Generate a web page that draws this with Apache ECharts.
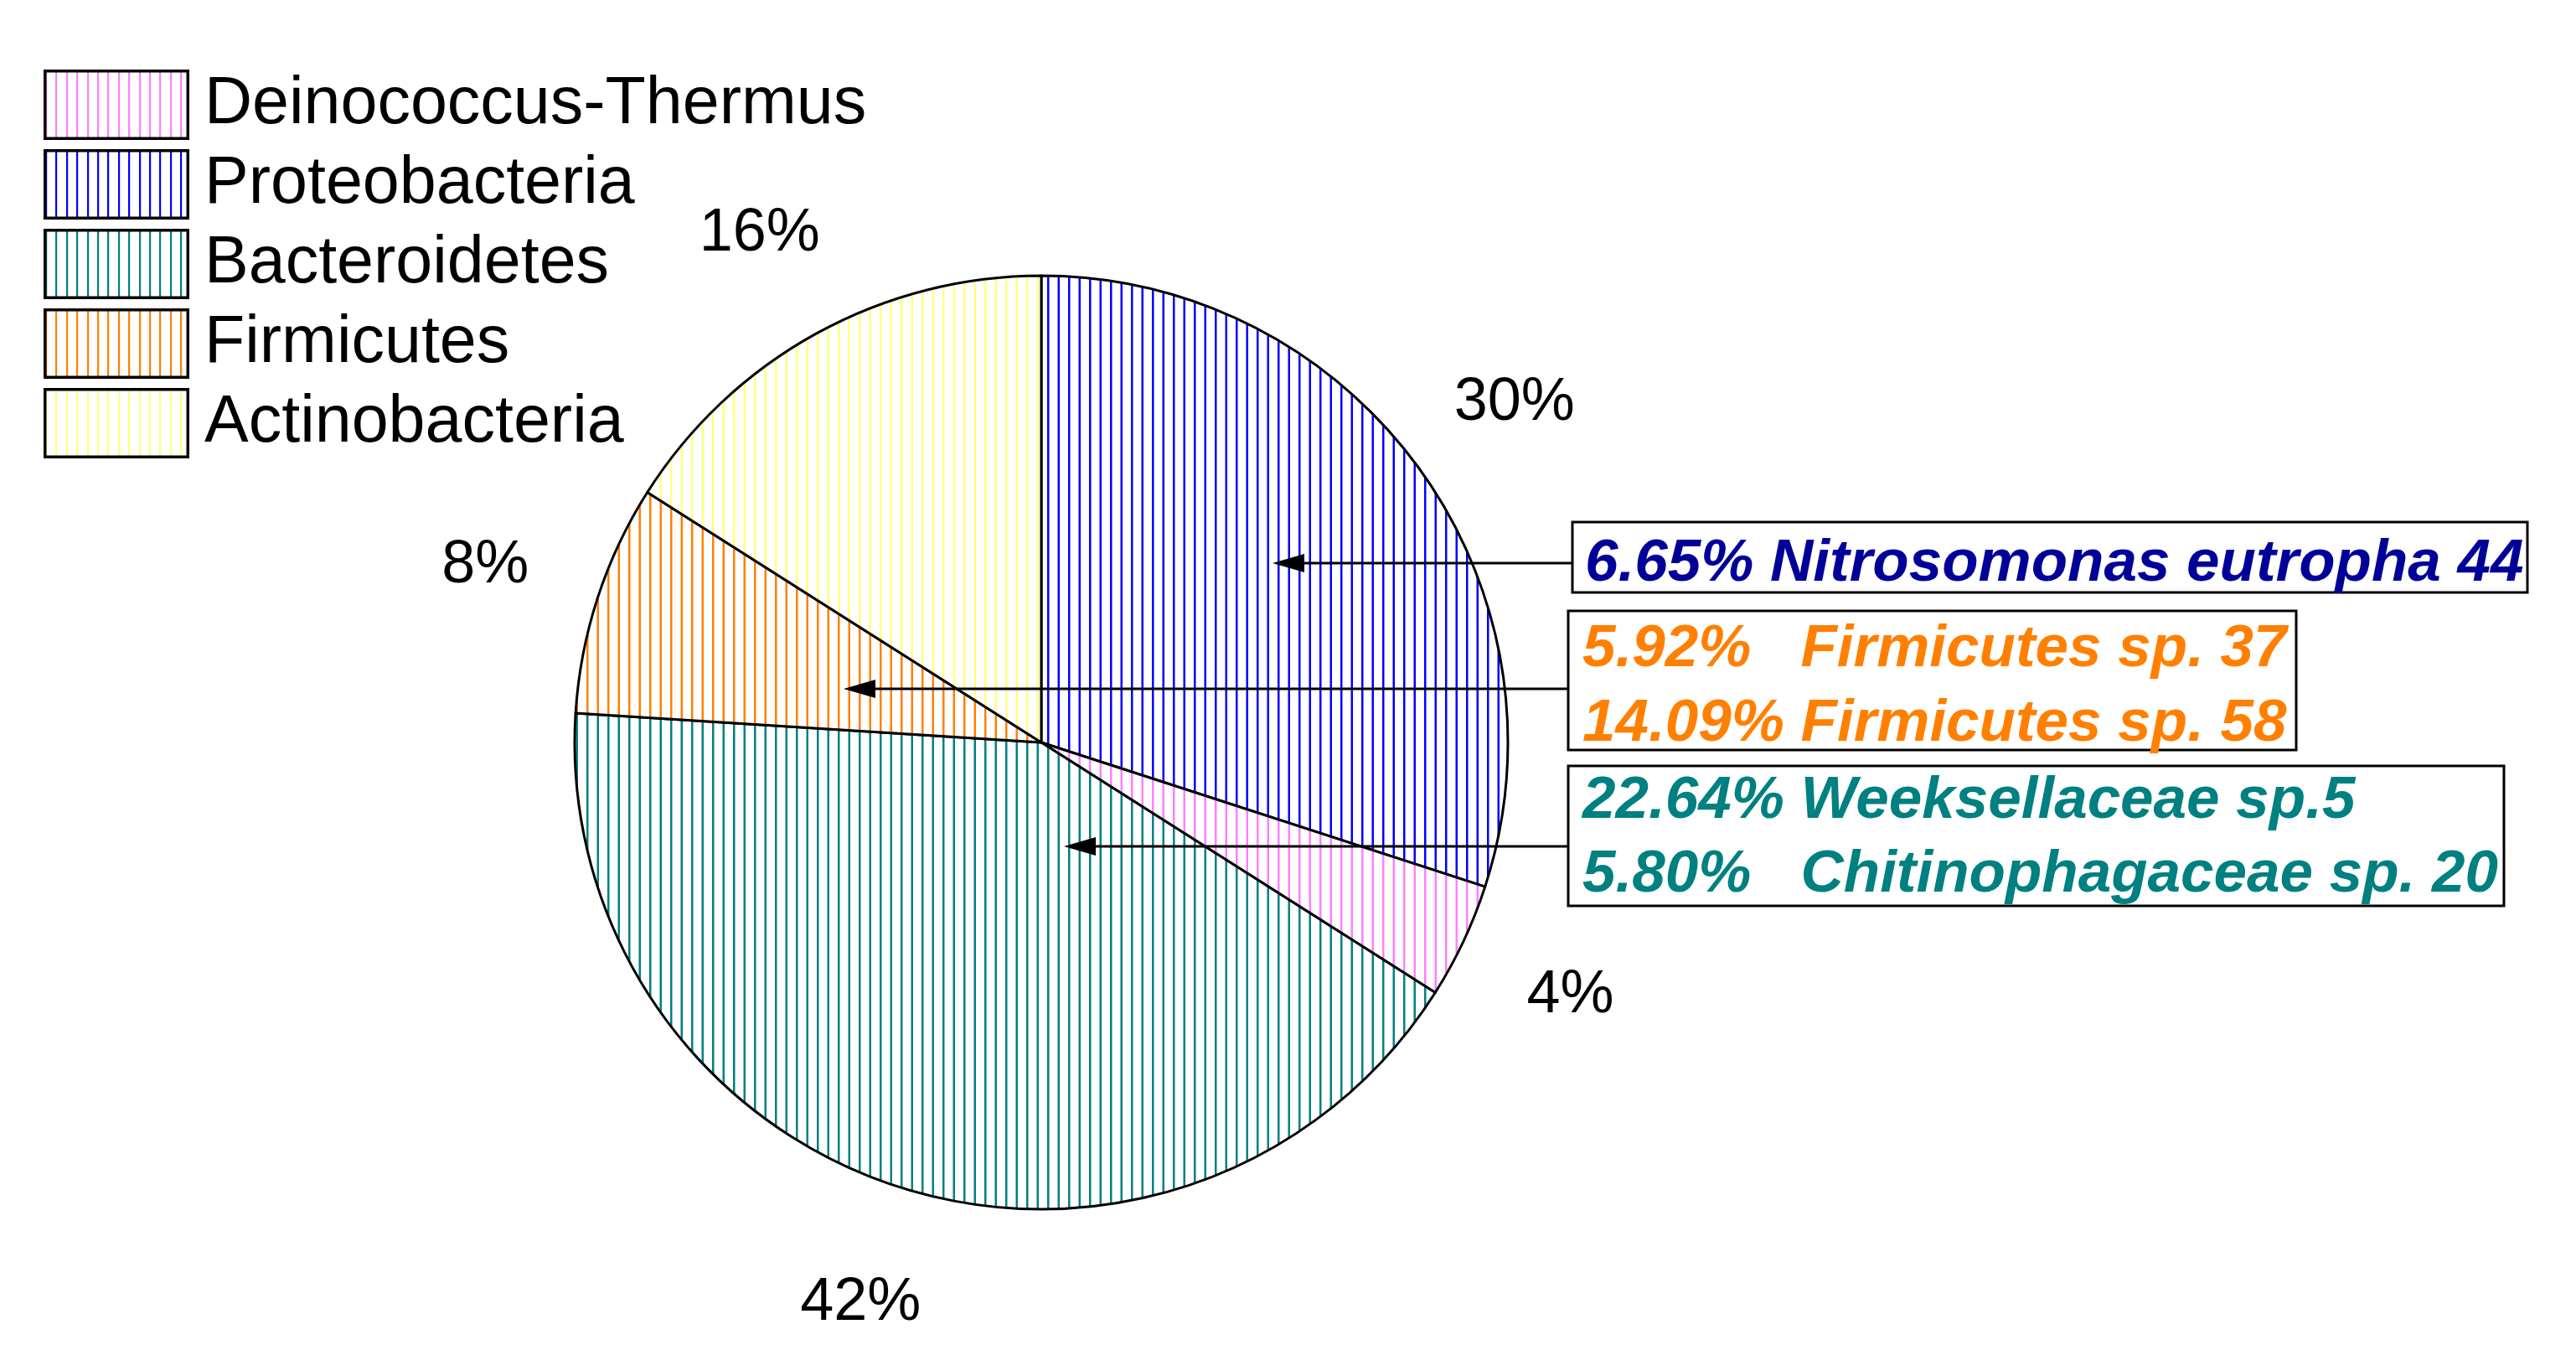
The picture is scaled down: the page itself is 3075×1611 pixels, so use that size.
<!DOCTYPE html>
<html>
<head>
<meta charset="utf-8">
<title>Phylum composition</title>
<script src="https://cdn.jsdelivr.net/npm/echarts@6/dist/echarts.min.js"></script>
<style>
html, body { margin: 0; padding: 0; background: #fff; }
#main { width: 3075px; height: 1611px; }
</style>
</head>
<body>
<div id="main"></div>
<script>
// slices, clockwise from 12 o'clock
var phyla = ['Proteobacteria', 'Deinococcus-Thermus', 'Bacteroidetes', 'Firmicutes', 'Actinobacteria'];
var shares = [30, 4, 42, 8, 16];
var hatchColors = ['#0000ff', '#ff80ff', '#008080', '#ff8000', '#ffff80'];
var legendOrder = ['Deinococcus-Thermus', 'Proteobacteria', 'Bacteroidetes', 'Firmicutes', 'Actinobacteria'];

// callout boxes
var noteLines = [
    ['6.65% Nitrosomonas eutropha 44'],
    ['5.92%   Firmicutes sp. 37', '14.09% Firmicutes sp. 58'],
    ['22.64% Weeksellaceae sp.5', '5.80%   Chitinophagaceae sp. 20']
];
var noteColors = ['#000099', '#ff8000', '#008080'];

var FONT = '"Liberation Sans", Arial, sans-serif';
var CX = 1243, CY = 886, R = 557;

// box geometry for the callouts
var boxes = [
    { x: 1877, y: 623, w: 1140, h: 84, arrowY: 672, tipX: 1519, textX: 1892, lineY: [673] },
    { x: 1872, y: 729, w: 869, h: 166, arrowY: 822, tipX: 1007, textX: 1889, lineY: [775, 864] },
    { x: 1872, y: 914, w: 1117, h: 167, arrowY: 1010, tipX: 1270, textX: 1889, lineY: [956, 1044] }
];

function hatch(color) {
    var c = document.createElement('canvas');
    c.width = 25; c.height = 4;
    var g = c.getContext('2d');
    g.fillStyle = '#fff';
    g.fillRect(0, 0, 25, 4);
    g.fillStyle = color;
    g.fillRect(0, 0, 2.5, 4);
    g.fillRect(12.5, 0, 2.5, 4);
    return c;
}

// legend swatch drawn at its final size so the hatch is not rescaled
function swatch(color) {
    var c = document.createElement('canvas');
    c.width = 174; c.height = 84;
    var g = c.getContext('2d');
    g.fillStyle = '#fff';
    g.fillRect(0, 0, 174, 84);
    g.fillStyle = color;
    for (var x = 3; x < 170; x += 12.4) {
        g.fillRect(Math.round(x) - 1, 3, 2.2, 78);
    }
    g.strokeStyle = '#000';
    g.lineWidth = 3.5;
    g.strokeRect(1.75, 1.75, 170.5, 80.5);
    return 'image://' + c.toDataURL();
}

var graphics = [];
boxes.forEach(function (b, i) {
    graphics.push({
        type: 'rect', z: 10, silent: true,
        shape: { x: b.x, y: b.y, width: b.w, height: b.h },
        style: { fill: '#fff', stroke: '#000', lineWidth: 3 }
    });
    graphics.push({
        type: 'line', z: 10, silent: true,
        shape: { x1: b.x, y1: b.arrowY, x2: b.tipX + 30, y2: b.arrowY },
        style: { stroke: '#000', lineWidth: 3 }
    });
    graphics.push({
        type: 'polygon', z: 10, silent: true,
        shape: { points: [[b.tipX, b.arrowY], [b.tipX + 38, b.arrowY - 11], [b.tipX + 38, b.arrowY + 11]] },
        style: { fill: '#000' }
    });
    noteLines[i].forEach(function (t, k) {
        graphics.push({
            type: 'text', z: 11, silent: true,
            x: b.textX, y: b.lineY[k],
            style: {
                text: t, fill: noteColors[i],
                font: 'italic bold 71px ' + FONT,
                align: 'left', verticalAlign: 'middle'
            }
        });
    });
});

var chart = echarts.init(document.getElementById('main'));
chart.setOption({
    animation: false,
    backgroundColor: '#fff',
    legend: {
        data: legendOrder.map(function (n) {
            return { name: n, icon: swatch(hatchColors[phyla.indexOf(n)]) };
        }),
        orient: 'vertical',
        left: 47,
        top: 78,
        itemWidth: 174,
        itemHeight: 84,
        itemGap: 11,
        selectedMode: false,
        textStyle: {
            fontSize: 79, lineHeight: 78, fontFamily: FONT, color: '#000',
            padding: [0, 0, 0, 13]
        }
    },
    graphic: graphics,
    series: [{
        type: 'pie',
        center: [CX, CY],
        radius: R,
        startAngle: 90,
        clockwise: true,
        silent: true,
        data: phyla.map(function (n, i) {
            return {
                name: n, value: shares[i],
                itemStyle: { color: { image: hatch(hatchColors[i]), repeat: 'repeat' } }
            };
        }),
        itemStyle: { borderColor: '#000', borderWidth: 3 },
        label: { show: false },
        labelLine: { show: false },
        emphasis: { disabled: true }
    }, {
        // ring carrying the percentage labels outside the pie
        type: 'pie',
        center: [CX, CY + 5],
        radius: [690, 700],
        startAngle: 90,
        clockwise: true,
        silent: true,
        percentPrecision: 0,
        data: phyla.map(function (n, i) { return { name: n, value: shares[i] }; }),
        itemStyle: { color: 'rgba(0,0,0,0)', borderWidth: 0 },
        label: {
            show: true, position: 'inside', rotate: 0,
            formatter: '{d}%', fontSize: 72, fontFamily: FONT, color: '#000'
        },
        labelLine: { show: false },
        emphasis: { disabled: true }
    }]
});
</script>
</body>
</html>
